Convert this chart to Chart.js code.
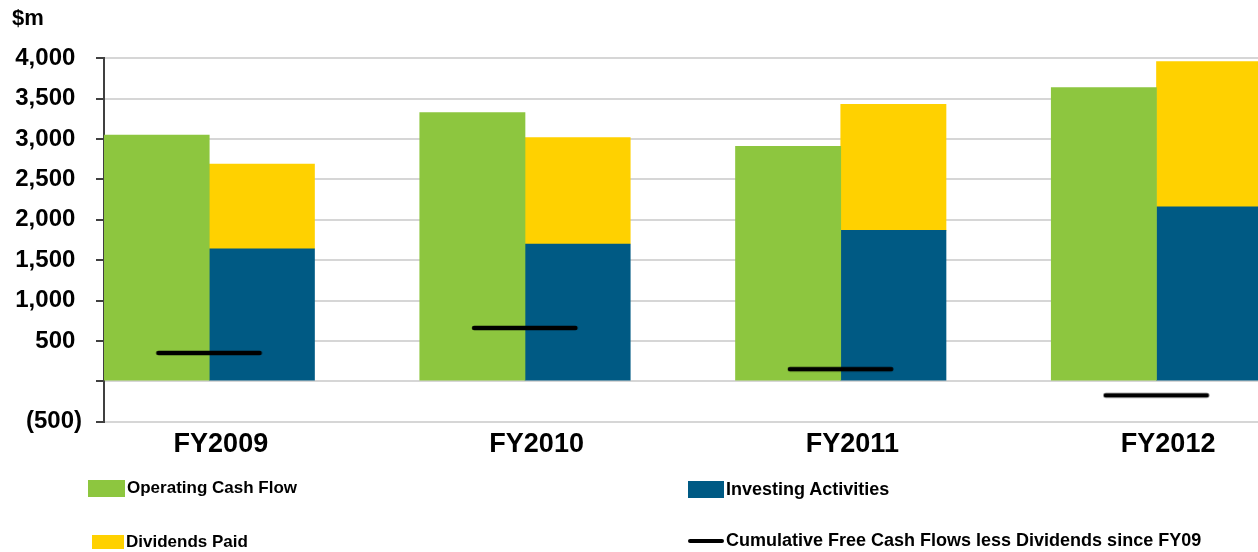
<!DOCTYPE html>
<html>
<head>
<meta charset="utf-8">
<script src="https://cdn.jsdelivr.net/npm/chart.js@4.4.0/dist/chart.umd.min.js"></script>
<style>
  html, body { margin: 0; padding: 0; background: #fff; overflow: hidden; }
  #wrap { position: relative; width: 1258px; height: 552px; overflow: hidden; }
  #cashChart { position: absolute; left: 0; top: 0; }
  .item { position: absolute; display: flex; align-items: center; white-space: nowrap;
          font: bold 17px "Liberation Sans", Arial, sans-serif; color: #000; }
  .item.wide { font-size: 18px; }
  .sw { display: inline-block; margin-right: 2px; }
</style>
</head>
<body>
<div id="wrap">
  <!-- plot runs past the right edge of the picture, as in the original -->
  <canvas id="cashChart" width="1372" height="552"></canvas>
  <div class="item" style="left:88px; top:478px;"><span class="sw" style="width:37px; height:17px; background:#8DC63F"></span>Operating Cash Flow</div>
  <div class="item wide" style="left:688px; top:479px;"><span class="sw" style="width:36px; height:17px; background:#005A84"></span>Investing Activities</div>
  <div class="item" style="left:92px; top:532px;"><span class="sw" style="width:32px; height:14px; background:#FFD100"></span>Dividends Paid</div>
  <div class="item wide" style="left:688px; top:530px;"><span class="sw" style="width:36px; height:4px; background:#000; border-radius:2px"></span>Cumulative Free Cash Flows less Dividends since FY09</div>
</div>
<script>
// values in $m
const categories = ['FY2009', 'FY2010', 'FY2011', 'FY2012'];
const operatingCashFlow = [3050, 3330, 2910, 3640];
const investingActivities = [1640, 1700, 1870, 2160];
const dividendsPaid = [1050, 1320, 1560, 1800];
const cumulativeFcf = [350, 660, 150, -175];

const FONT = '"Liberation Sans", Arial, sans-serif';

// short black dash centred between the green bar and the stacked bar
function dashStyle(ctx) {
  const x = ctx.chart.scales.x;
  const slot = x.width / categories.length / 3;
  const len = slot * 1.02;
  const c = document.createElement('canvas');
  c.width = Math.round(slot + len);
  c.height = 8;
  const g = c.getContext('2d');
  g.strokeStyle = '#000';
  g.lineWidth = 4.5;
  g.lineCap = 'round';
  g.beginPath();
  g.moveTo(3, 4);
  g.lineTo(len - 3, 4);
  g.stroke();
  return c;
}

function yLabel(v) {
  if (v === 0) return '';
  if (v < 0) return '(' + Math.abs(v).toLocaleString('en-US') + ')';
  return v.toLocaleString('en-US') + ' ';
}

new Chart(document.getElementById('cashChart'), {
  type: 'bar',
  data: {
    labels: categories,
    datasets: [
      {
        type: 'line',
        label: 'Cumulative Free Cash Flows less Dividends since FY09',
        data: cumulativeFcf,
        showLine: false,
        pointStyle: dashStyle,
        pointRadius: 3,
        order: -1
      },
      { label: 'Operating Cash Flow', data: operatingCashFlow, backgroundColor: '#8DC63F', stack: 'ocf' },
      { label: 'Investing Activities', data: investingActivities, backgroundColor: '#005A84', stack: 'flows' },
      { label: 'Dividends Paid', data: dividendsPaid, backgroundColor: '#FFD100', stack: 'flows' },
      { label: '', data: categories.map(() => null), stack: 'gap' }
    ]
  },
  options: {
    responsive: false,
    animation: false,
    categoryPercentage: 1,
    barPercentage: 1,
    layout: { padding: { left: 12, right: 0, top: 0, bottom: 84 } },
    plugins: {
      legend: { display: false },
      tooltip: { enabled: false },
      title: {
        display: true,
        text: '$m',
        align: 'start',
        color: '#000',
        font: { family: FONT, size: 22, weight: 'bold' },
        padding: { top: 6, bottom: 26 }
      }
    },
    scales: {
      x: {
        stacked: true,
        grid: { display: false, drawTicks: false },
        border: { display: false },
        ticks: {
          color: '#000',
          padding: 7,
          labelOffset: -41,
          font: { family: FONT, size: 27, weight: 'bold' }
        }
      },
      y: {
        stacked: true,
        min: -500,
        max: 4000,
        afterFit: (scale) => { scale.width = 92; },
        ticks: {
          stepSize: 500,
          padding: 14,
          color: '#000',
          font: { family: FONT, size: 24, weight: 'bold' },
          callback: yLabel
        },
        grid: { color: '#d6d6d6', lineWidth: 2, tickLength: 8, tickColor: '#404040', tickWidth: 2 },
        border: { color: '#404040', width: 2 }
      }
    }
  }
});
</script>
</body>
</html>
